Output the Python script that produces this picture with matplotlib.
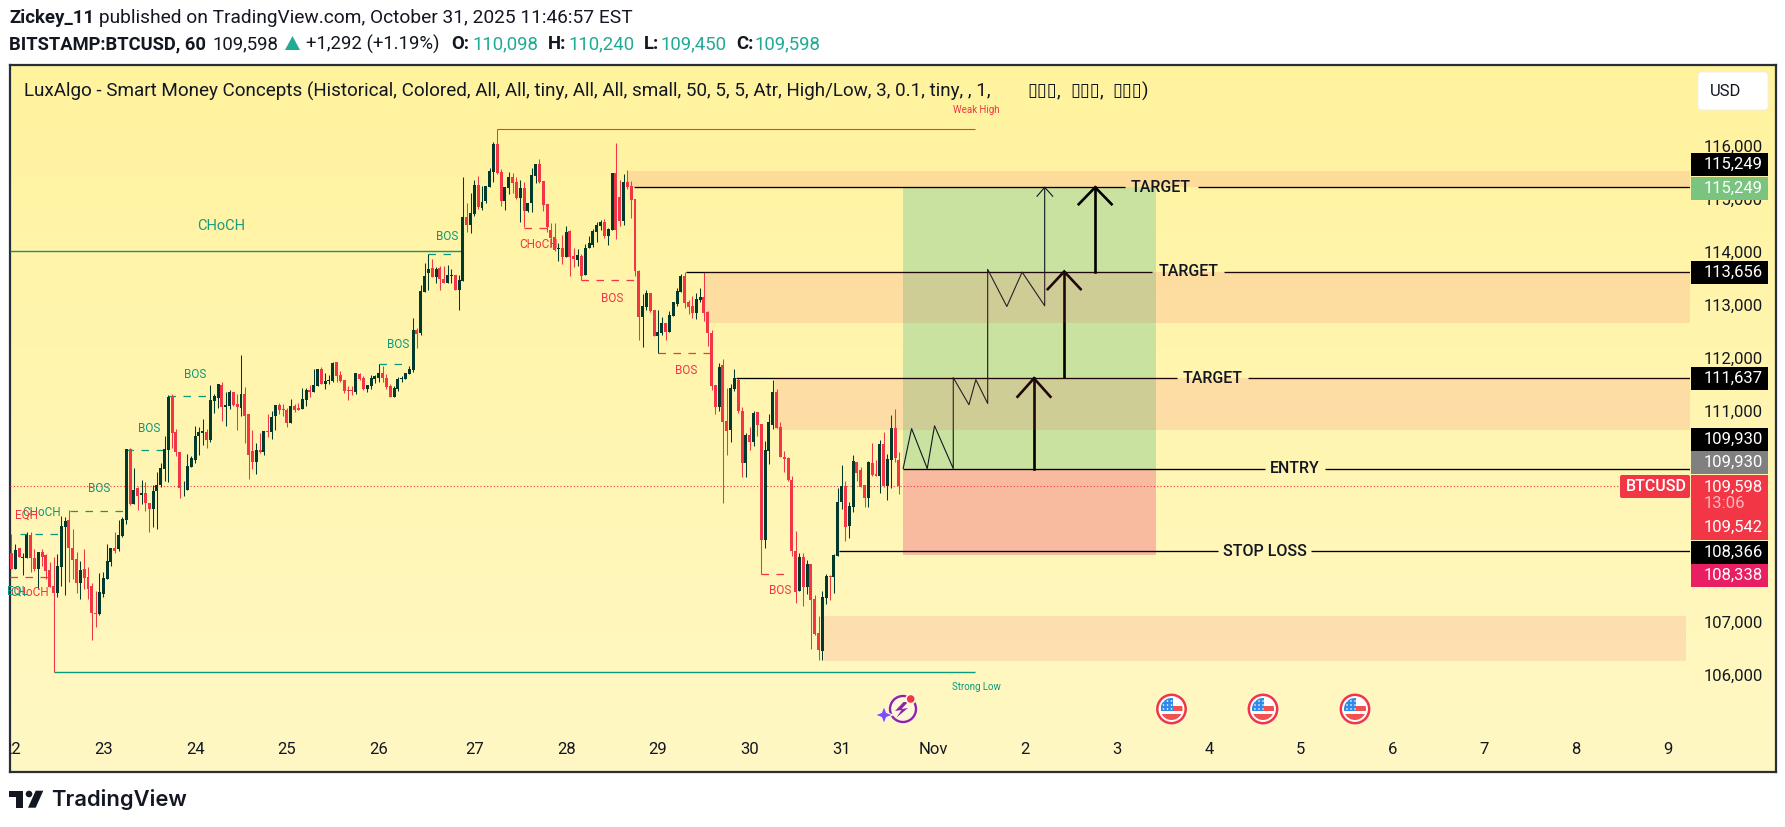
import matplotlib
matplotlib.use("Agg")
import matplotlib.pyplot as plt
import numpy as np
from matplotlib.patches import Circle, FancyBboxPatch, Polygon, Rectangle
from matplotlib.transforms import ScaledTranslation

plt.rcParams['font.family'] = ['Roboto', 'DejaVu Sans']

# hourly candles, bar 0 is Oct 22 00:00
opens = [
    108326,108023,108434,108231,108244,108680,108244,108023,108358,108288,
    108010,107713,107580,108073,108832,108965,108434,108225,107770,108036,
    107878,107713,107195,107176,107562,107846,108168,108434,108415,108661,
    108965,110304,109268,109559,109439,109476,109287,109173,109514,109628,
    109913,110273,111297,110614,110235,109559,109533,109969,110083,110538,
    110595,110614,110462,111202,111259,111505,111088,111107,111372,111145,
    111072,111338,110959,110257,110048,110276,110238,110636,110617,110921,
    111129,111053,111034,110788,111110,111072,111053,111224,111414,111376,
    111489,111812,111527,111584,111584,111944,111698,111603,111414,111414,
    111376,111717,111641,111433,111489,111622,111641,111736,111641,111489,
    111281,111433,111622,111622,111717,111793,112551,112494,113272,113632,
    113727,113556,113727,113518,113442,113575,113594,113310,113480,114693,
    114542,114750,115300,114864,114997,115262,115547,116059,115547,114997,
    115243,115452,115357,115054,115243,114807,114959,115471,115698,115376,
    114940,114447,114314,114087,114106,113935,114428,113954,113878,113954,
    113594,114106,114163,114409,114523,114599,114333,114447,115528,115073,
    114618,115357,115281,115035,113670,112798,112987,113252,112930,112437,
    112494,112684,112513,112816,113044,113271,113575,113082,113006,112873,
    113120,113183,112898,112488,111508,111091,111888,110826,110655,111433,
    111603,111015,110030,110560,110428,110996,110769,108570,110257,110750,
    111376,110712,110143,110124,109707,108380,107622,108266,107697,108134,
    107470,106825,106484,107489,107906,107887,108285,109290,109593,108835,
    109195,110048,109897,109612,109366,110030,109821,109783,110390,109593,
    110086,110693,110098]
highs = [
    108693,108503,108434,108326,108724,108724,108408,108358,108408,108314,
    108156,108263,108314,109040,109021,109148,108788,108358,108187,108415,
    108061,107770,107618,107960,107979,108503,108434,108737,108965,109009,
    110304,110317,109950,109590,109723,109685,109287,109628,109868,110026,
    110538,111316,111335,110671,110235,109704,110197,110159,110728,110715,
    110861,110671,111505,111347,111524,111562,111372,111410,111372,111335,
    112077,111470,110959,110655,110409,110598,110636,110959,111015,111129,
    111167,111148,111072,111243,111148,111167,111452,111452,111508,111812,
    111812,111850,111736,111698,111944,111944,111774,111603,111489,111489,
    111736,111736,111679,111508,111698,111698,111907,111869,111717,111527,
    111489,111660,111679,111736,111869,112779,112589,113404,113822,113992,
    113897,113746,113765,113765,113784,113708,113594,113594,115452,114959,
    115149,115395,115471,115281,115281,115622,116097,116345,115604,115262,
    115547,115528,115452,115395,115357,114959,115622,115698,115793,115376,
    114940,114580,114580,114194,114352,114523,114447,114106,114087,113992,
    114182,114333,114466,114599,114637,114656,114485,115528,116078,115395,
    115509,115585,115376,115035,113689,113234,113309,113252,112930,112930,
    112798,112684,112911,113082,113347,113613,113651,113120,113196,113252,
    113341,113644,112917,112551,111508,111919,112001,111452,111527,111812,
    111641,111091,110598,110712,111015,110996,110769,110447,110959,111603,
    111433,110807,110257,110143,109783,108740,108342,108342,108209,108134,
    107546,107148,107622,107944,107925,108323,109556,109992,109688,109290,
    110181,110048,109954,109612,110067,110409,110086,110466,110617,110200,
    110940,111053,110240]
lows = [
    108029,108023,108250,107922,108244,107966,107998,107650,108092,107840,
    107694,106074,107492,107713,107543,107776,107840,107580,107467,107650,
    107467,106689,106936,107157,107492,107846,108092,108339,108377,108642,
    108882,109249,109268,109148,109262,109135,108737,108832,108781,109578,
    109704,109685,110311,110159,109382,109420,109533,109969,110026,110178,
    110368,110311,110424,110974,111069,110823,110728,111050,111107,110652,
    110921,110409,109726,109916,109821,110219,110181,110523,110485,110655,
    110959,110921,110712,110788,110996,111034,111053,111110,111281,111376,
    111489,111527,111433,111527,111565,111565,111565,111357,111224,111319,
    111338,111603,111414,111376,111433,111546,111565,111565,111433,111281,
    111281,111395,111565,111622,111717,111755,112210,112456,113272,113310,
    113556,113442,113310,113442,113442,113442,113310,112930,113480,114409,
    114390,114712,114845,114826,114959,115262,115357,115509,114902,114826,
    115130,115149,115035,114599,114498,114788,114788,115332,115338,114807,
    114409,114125,114049,113859,113802,113935,113575,113745,113764,113499,
    113594,114106,114125,114219,114447,114295,114163,114447,114276,114523,
    114542,115224,114675,113575,112361,112229,112930,112892,112437,112109,
    112456,112361,112513,112816,113006,113271,112968,112854,112779,112760,
    113088,112728,112247,111414,110959,111015,109271,110181,110428,111395,
    110977,109764,109764,110276,110352,110541,107938,108437,110010,110674,
    110693,110143,109859,109688,108285,107394,107622,107337,107565,106522,
    106787,106313,106313,107375,107451,107584,108285,109157,108551,108608,
    109100,109688,109574,109195,109195,109783,109783,109461,109574,109328,
    109556,110048,109450]
closes = [
    108029,108396,108250,108263,108680,108231,108029,108358,108263,107998,
    107694,107580,108092,108851,108946,108421,108206,107770,108017,107865,
    107656,107195,107189,107599,107865,108187,108434,108377,108680,108984,
    110304,109262,109533,109420,109476,109287,109173,109514,109628,109932,
    110292,111278,110595,110235,109571,109571,109988,110121,110538,110614,
    110633,110462,111221,111297,111524,111088,111126,111372,111126,111088,
    111338,110921,110181,110048,110276,110238,110636,110617,110902,111129,
    111034,111034,110788,111110,111034,111047,111243,111414,111376,111508,
    111812,111527,111584,111603,111926,111679,111584,111395,111395,111395,
    111736,111622,111433,111508,111641,111679,111736,111641,111470,111281,
    111452,111622,111641,111736,111812,112551,112475,113291,113575,113708,
    113556,113708,113518,113442,113594,113594,113310,113499,114693,114542,
    114769,115300,114883,114978,115281,115566,116059,115528,114997,115262,
    115452,115338,115054,115243,114807,114959,115490,115698,115357,114921,
    114498,114295,114068,114106,113935,114409,113935,113897,113973,113575,
    114106,114201,114428,114542,114599,114333,114466,115528,114447,114618,
    115357,115262,115016,113670,112798,113006,113252,112911,112437,112513,
    112684,112513,112835,113082,113290,113575,113063,112987,112873,113139,
    113170,112879,112488,111489,111091,111850,110807,110636,111452,111641,
    111015,110030,110560,110428,110978,110750,108570,110276,110807,111376,
    110693,110143,110105,109707,108380,107603,108266,107697,108134,107451,
    106806,106503,107508,107906,107887,108304,109290,109593,108816,109214,
    110067,109840,109574,109366,110048,109802,109783,110390,109593,110105,
    110693,110124,109598]

# time axis, bar index of each day label
day_bars = [0, 24, 48, 72, 96, 121, 145, 169, 193, 217, 241, 265, 289, 313, 337, 361, 385, 409, 433]
day_labels = ['22', '23', '24', '25', '26', '27', '28', '29', '30', '31', 'Nov', '2', '3', '4', '5', '6', '7', '8', '9']
price_ticks = [106000, 107000, 111000, 112000, 113000, 114000, 115000, 116000]

entry = 109930
stop_loss = 108366
targets = [111637, 113656, 115249]
last_price = 109598
weak_high = 116345
strong_low = 106074
choch_level = 114051

# (start bar, end bar, top, bottom)
zones = [(161.2, 438.8, 115555, 115249),
         (181.3, 438.8, 113656, 112690),
         (199.6, 438.8, 111637, 110650),
         (212.4, 437.8, 107135, 106290)]

# structure breaks (start bar, end bar, level)
bull_breaks = [(2.2, 13, 108697), (15.3, 30, 109121), (30, 40.4, 110277), (40.9, 51.5, 111302),
               (96, 102.4, 111900), (109, 115.4, 113986)]
bear_breaks = [(-0.4, 10, 107876), (134, 140, 114474), (149, 164, 113493), (169, 183, 112109), (196, 202.5, 107938)]

# hand drawn path on the chart
path_bars = [233.1, 235.3, 239.4, 241.3, 246.2, 246.2, 250.3, 252.1, 255.2, 255.2, 260.2, 264.2, 270.1, 270.1]
path_prices = [109930, 110687, 109930, 110739, 109930, 111649, 111137, 111611, 111161, 113696, 112995, 113645, 113008, 115249]

bars = np.arange(len(opens))
opens = np.array(opens)
highs = np.array(highs)
lows = np.array(lows)
closes = np.array(closes)

W, H = 1785, 827
fig = plt.figure(figsize=(W / 100, H / 100), dpi=100, facecolor='white')


def box(x0, y0, x1, y1):
    return [x0 / W, 1 - y1 / H, (x1 - x0) / W, (y1 - y0) / H]


# pane background
bg = fig.add_axes(box(10, 65, 1776, 772), zorder=0)
top_col = np.array([255, 243, 158]) / 255
bot_col = np.array([255, 248, 196]) / 255
grad = np.linspace(0, 1, 256)[:, None, None] * (bot_col - top_col)[None, None, :] + top_col[None, None, :]
bg.imshow(grad, aspect='auto', extent=[0, 1, 0, 1])
bg.set_xticks([])
bg.set_yticks([])
for s in bg.spines.values():
    s.set_color('#2a2e39')
    s.set_linewidth(1.6)

# main chart
ax = fig.add_axes(box(10, 65, 1690, 738), zorder=1)
ax.patch.set_alpha(0)
ax.set_xlim(-0.39, 438.8)
ax.set_ylim(115249 - (738 - 187.3) / 0.05288, 115249 + (187.3 - 65) / 0.05288)
for s in ax.spines.values():
    s.set_visible(False)
ax.set_xticks(day_bars)
ax.set_xticklabels(day_labels)
ax.set_yticks(price_ticks)
ax.set_yticklabels([f'{p:,}' for p in price_ticks])
ax.yaxis.tick_right()
ax.tick_params(axis='x', length=0, pad=3, labelsize=12, labelcolor='#131722')
ax.tick_params(axis='y', length=0, pad=10, labelsize=12, labelcolor='#131722')
for lab in ax.get_xticklabels():
    lab.set_clip_box(bg.bbox)
    lab.set_clip_on(True)
for lab in ax.get_yticklabels():
    lab.set_transform(lab.get_transform() + ScaledTranslation(0, 1.5 / 100, fig.dpi_scale_trans))

# trade boxes
ax.add_patch(Rectangle((233.1, entry), 66.2, targets[2] - entry, fc='#cae29f', ec='none', zorder=1))
ax.add_patch(Rectangle((233.1, 108300), 66.2, entry - 108300, fc='#f9bba0', ec='none', zorder=1))

UP = '#013a2d'
DOWN = '#f23645'
colors = [UP if c >= o else DOWN for o, c in zip(opens, closes)]
ax.vlines(bars, lows, highs, colors=colors, lw=0.75, zorder=3)
ax.bar(bars, np.abs(closes - opens), bottom=np.minimum(opens, closes), width=0.78, color=colors,
       linewidth=0, zorder=3)

# levels and their labels
levels = [(targets[2], 162.8, 291.1, 310.2, 438.8, 300.5, 'TARGET'),
          (targets[1], 176.3, 298.2, 317.0, 438.8, 307.6, 'TARGET'),
          (targets[0], 189.5, 304.6, 323.3, 438.8, 313.9, 'TARGET'),
          (entry, 233.1, 327.7, 343.4, 438.8, 335.5, 'ENTRY'),
          (stop_loss, 216.3, 315.4, 339.7, 438.8, 327.7, 'STOP LOSS')]
for level, a, b, c, d, mid, name in levels:
    ax.hlines([level, level], [a, c], [b, d], colors='black', lw=0.95, zorder=4)
    ax.text(mid, level, name, ha='center', va='center', fontsize=11.5, fontweight='medium', color='#131722', zorder=7)

# hand drawn arrows
ax.plot(path_bars, path_prices, color='#131722', lw=0.8, zorder=4)
ax.plot([268.1, 270.1, 272.2], [115080, 115249, 115080], color='#131722', lw=0.8, zorder=4)
for x, base, tip, wing in [(267.3, entry, targets[0], 111288), (275.2, 111670, targets[1], 113323), (283.3, targets[1], targets[2], 114929)]:
    ax.plot([x, x], [base, tip], color='black', lw=1.9, zorder=4)
    ax.plot([x - 4.3, x, x + 4.3], [wing, tip, wing], color='black', lw=1.9, zorder=4, solid_joinstyle='miter')

# order blocks sit on top of the drawings
for x0, x1, top, bot in zones:
    ax.add_patch(Rectangle((x0, bot), x1 - x0, top - bot, fc='#f7435d', alpha=0.13, ec='none', zorder=5))

# smart money lines
TEAL = '#089981'
ax.hlines(last_price, -0.39, 438.8, colors=DOWN, lw=0.8, linestyles=(0, (1, 2)), zorder=2)
ax.hlines(choch_level, -0.39, 118, colors='#1c8f6c', lw=1.0, zorder=2)
ax.hlines(weak_high, 127, 252, colors=DOWN, lw=0.8, zorder=2)
ax.hlines(strong_low, 11, 252, colors=TEAL, lw=1.0, zorder=2)
for a, b, lev in bull_breaks:
    ax.hlines(lev, a, b, colors=TEAL, lw=0.9, linestyles=(0, (6, 6)), zorder=2)
for a, b, lev in bear_breaks:
    ax.hlines(lev, a, b, colors=DOWN, lw=0.9, linestyles=(0, (6, 6)), zorder=2)

# overlay in pixels for tags and header
ov = fig.add_axes([0, 0, 1, 1], zorder=2)
ov.set_xlim(0, W)
ov.set_ylim(H, 0)
ov.axis('off')


def label(x, y, s, color=TEAL, size=8.5, ha='center', **kw):
    ov.text(x, y, s, color=color, fontsize=size, ha=ha, va='center', **kw)


# small structure labels
for x, y in [(447, 236), (398, 345), (195, 375), (149, 429), (99, 489)]:
    label(x, y, 'BOS')
for x, y in [(612, 299), (686, 371), (780, 590)]:
    label(x, y, 'BOS', DOWN)
label(221, 226, 'CHoCH', '#1c9a80', 10.5)
label(42, 512, 'CHoCH')
label(539, 245, 'CHoCH', DOWN)
label(30, 593, 'CHoCH', DOWN)
label(27, 515, 'EQH', DOWN)
label(17, 591, 'EQL')
label(976, 110, 'Weak High', DOWN, 7)
label(976, 687, 'Strong Low', TEAL, 7)

# price tags on the scale
tags = [(153, 176, 'black', '115,249'),
        (177, 200, '#7bc47f', '115,249'),
        (261, 284, 'black', '113,656'),
        (367, 390, 'black', '111,637'),
        (428, 451, 'black', '109,930'),
        (451, 474, '#808080', '109,930'),
        (475, 540, DOWN, ''),
        (541, 564, 'black', '108,366'),
        (564, 587, '#e91e63', '108,338')]
for t0, t1, fc, txt in tags:
    ov.add_patch(Rectangle((1691, t0), 77, t1 - t0, fc=fc, ec='none'))
    if txt:
        label(1704, (t0 + t1) / 2, txt, 'white', 12, ha='left')
label(1704, 487, '109,598', 'white', 12, ha='left')
label(1704, 504, '13:06', '#fbb7bd', 12, ha='left')
label(1704, 527, '109,542', 'white', 12, ha='left')
ov.add_patch(FancyBboxPatch((1620, 475), 70, 23, boxstyle='round,pad=0,rounding_size=2', fc=DOWN, ec='none'))
label(1656, 486.5, 'BTCUSD', 'white', 11.5, fontweight='medium')

# currency button
ov.add_patch(FancyBboxPatch((1698, 72), 70, 38, boxstyle='round,pad=0,rounding_size=4', fc='white', ec='#eeeeee', lw=0.6))
label(1726, 91, 'USD', '#131722', 12)

# header
INK = '#131722'
UPTXT = '#22ab94'
label(9, 18, 'Zickey_11', INK, 13.4, ha='left', fontweight='bold')
label(99, 18, 'published on TradingView.com, October 31, 2025 11:46:57 EST', INK, 13.8, ha='left')
label(9, 44, 'BITSTAMP:BTCUSD, 60', INK, 13.2, ha='left', fontweight='bold')
label(212, 44, '109,598', INK, 13.4, ha='left')
ov.add_patch(Polygon([(285, 50), (300, 50), (292.5, 36)], fc=UPTXT, ec='none'))
label(306, 44, '+1,292 (+1.19%)', INK, 13.4, ha='left')
for x_key, key, x_val, val in [(451, 'O:', 472, '110,098'), (548, 'H:', 568, '110,240'),
                               (644, 'L:', 660, '109,450'), (736, 'C:', 755, '109,598')]:
    label(x_key, 44, key, INK, 13.4, ha='left', fontweight='bold')
    label(x_val, 44, val, UPTXT, 13.4, ha='left')
label(24, 91, 'LuxAlgo - Smart Money Concepts (Historical, Colored, All, All, tiny, All, All, small, 50, 5, 5, '
      'Atr, High/Low, 3, 0.1, tiny, , 1,', INK, 13.6, ha='left')
# the last three inputs render as missing-glyph boxes in the source
for bx, tail in [(1027, ','), (1070, ','), (1112, ')')]:
    label(bx, 91, '▯▯▯', INK, 13, ha='left', family='DejaVu Sans')
    label(bx + 30, 91, tail, INK, 13.6, ha='left')


# event icons
def flag(cx, cy):
    ov.add_patch(Circle((cx, cy), 16.5, fc='#fff8d8', ec='none'))
    ov.add_patch(Circle((cx, cy), 14.2, fc='white', ec=DOWN, lw=1.8))
    clip = Circle((cx, cy), 11, transform=ov.transData)
    for r, c in [((cx - 11, cy - 11, 22, 8), 'white'), ((cx, cy - 3, 11, 5), '#f05050'), ((cx - 11, cy + 5, 22, 6), '#f05050'),
                 ((cx - 11, cy - 11, 12, 13), '#2f8ae8')]:
        p = Rectangle((r[0], r[1]), r[2], r[3], fc=c, ec='none')
        ov.add_patch(p)
        p.set_clip_path(clip)
    for dx in (-8, -4, 0):
        for dy in (-8, -4, 0):
            ov.add_patch(Circle((cx + dx, cy + dy), 0.8, fc='white', ec='none'))


for fx in (1171.5, 1263, 1355):
    flag(fx, 709)

# breaking news icon
ov.add_patch(Circle((903, 709), 15.5, fc='#fff8d8', ec='none'))
ov.add_patch(Circle((903, 709), 13, fc='none', ec='#8e24aa', lw=1.7))
ov.add_patch(Polygon([(903.5, 702), (895, 711), (901.5, 710), (896.5, 717.5), (908, 708), (901.5, 709), (908, 702)], fc='#8e24aa', ec='none'))
ov.add_patch(Circle((910.7, 699), 5.5, fc='#fff8d8', ec='none'))
ov.add_patch(Circle((910.7, 699), 3.8, fc=DOWN, ec='none'))
ov.add_patch(Polygon([(884, 706), (886.5, 712.5), (893, 715), (886.5, 717.5), (884, 724), (881.5, 717.5), (875, 715), (881.5, 712.5)],
                     fc='#7c4dff', ec='#fff8d8', lw=0.8))

# tradingview logo
ov.add_patch(Rectangle((9, 790.7), 14.3, 6.6, fc=INK, ec='none'))
ov.add_patch(Rectangle((15.7, 790.7), 7.6, 17, fc=INK, ec='none'))
ov.add_patch(Circle((29, 794), 3.3, fc=INK, ec='none'))
ov.add_patch(Polygon([(35.7, 790.7), (43.3, 790.7), (35.7, 807.7), (28, 807.7)], fc=INK, ec='none'))
label(51, 800, 'TradingView', INK, 15.8, ha='left', fontweight='semibold', family='Inter')

fig.savefig('out.png', dpi=100)
